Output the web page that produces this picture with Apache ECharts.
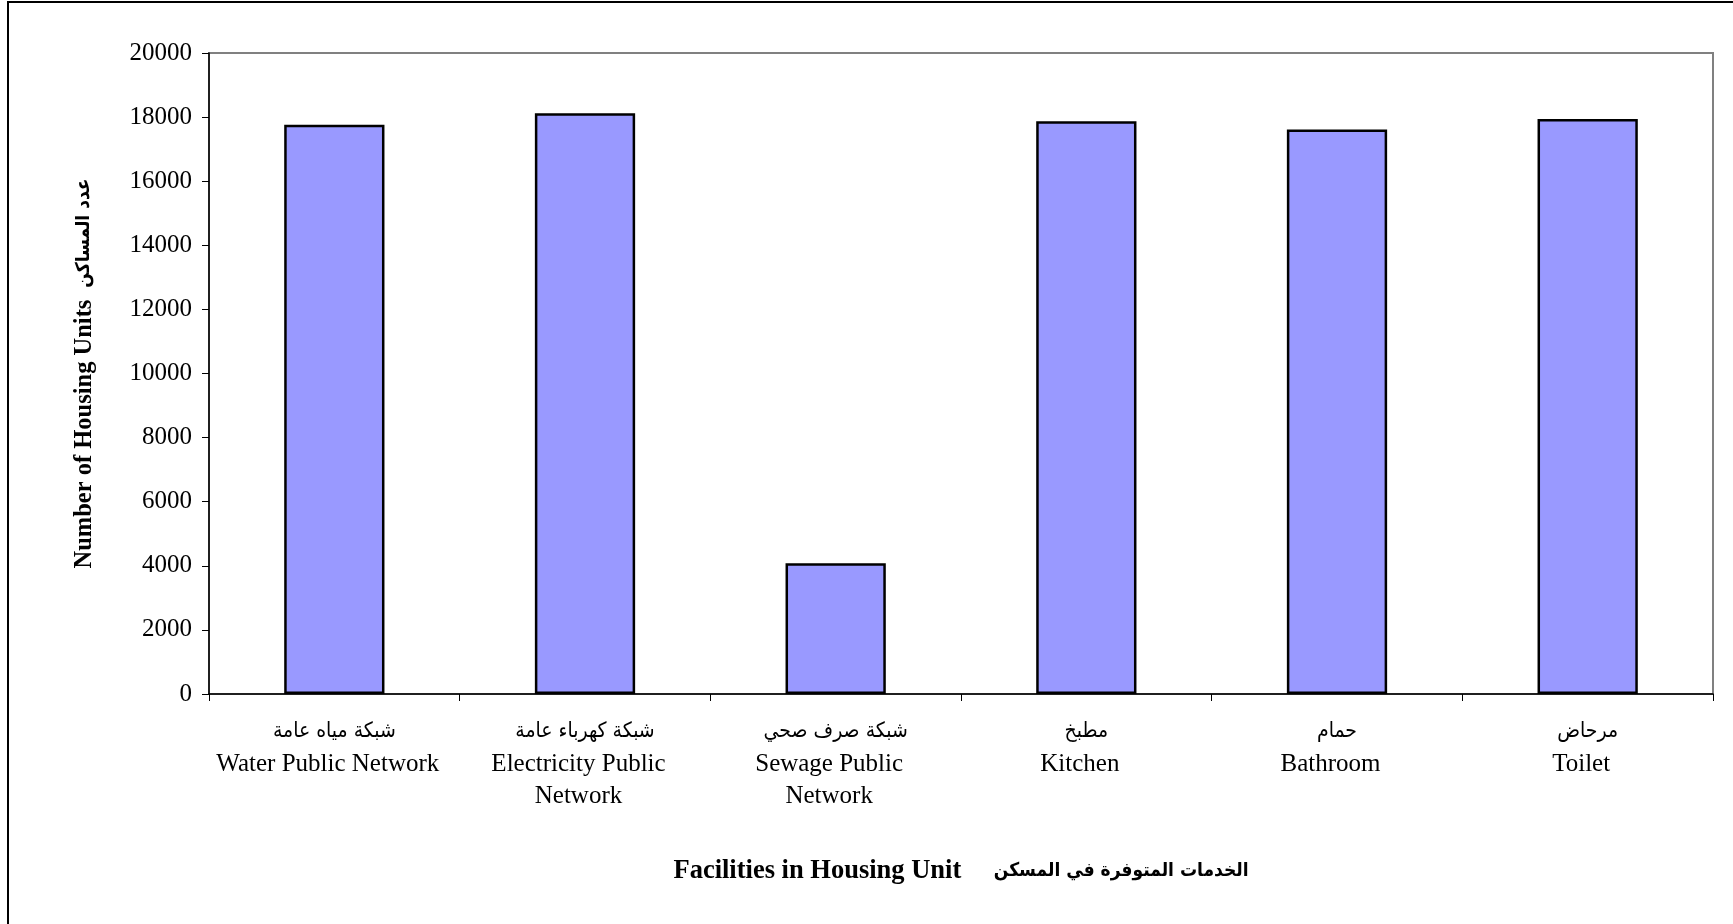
<!DOCTYPE html>
<html>
<head>
<meta charset="utf-8">
<script src="https://cdn.jsdelivr.net/npm/echarts@6/dist/echarts.min.js"></script>
<style>
html,body{margin:0;padding:0;background:#fff;}
#chart{width:1733px;height:924px;}
</style>
</head>
<body>
<div id="chart"></div>
<script>
var categoriesArabic = ['شبكة مياه عامة', 'شبكة كهرباء عامة', 'شبكة صرف صحي', 'مطبخ', 'حمام', 'مرحاض'];
var categoriesEnglish = ['Water Public Network', 'Electricity Public\nNetwork', 'Sewage Public\nNetwork', 'Kitchen', 'Bathroom', 'Toilet'];
var housingUnits = [17760, 18120, 4080, 17870, 17610, 17940];
var yTicks = [0, 2000, 4000, 6000, 8000, 10000, 12000, 14000, 16000, 18000, 20000];
var yAxisTitleEnglish = 'Number of Housing Units';
var yAxisTitleArabic = 'عدد المساكن';
var xAxisTitleEnglish = 'Facilities in Housing Unit';
var xAxisTitleArabic = 'الخدمات المتوفرة في المسكن';

var FONT = '"Liberation Serif", "Times New Roman", serif';
var AFONT = '"DejaVu Sans Condensed", "DejaVu Sans", sans-serif';

var categories = categoriesArabic.map(function (a, i) {
  var en = categoriesEnglish[i].split('\n').map(function (l) { return '{en|' + l + '}'; }).join('\n');
  return '{ar|' + a + '}\n' + en;
});

var chart = echarts.init(document.getElementById('chart'));
chart.setOption({
  backgroundColor: '#ffffff',
  animation: false,
  textStyle: { fontFamily: FONT },
  graphic: [{
    type: 'rect',
    shape: { x: 8, y: 2, width: 2000, height: 2000 },
    style: { fill: 'none', stroke: '#000', lineWidth: 2 },
    silent: true
  }],
  grid: {
    left: 209, right: 20, top: 53, bottom: 230,
    show: true, borderColor: '#808080', borderWidth: 2, backgroundColor: 'transparent'
  },
  xAxis: {
    type: 'category',
    data: categories,
    boundaryGap: true,
    axisLine: { lineStyle: { color: '#000', width: 1.5 } },
    axisTick: { show: true, length: 7, lineStyle: { color: '#000' } },
    axisLabel: {
      interval: 0, margin: 22, color: '#000', lineHeight: 32,
      rich: {
        ar: { fontFamily: AFONT, fontSize: 21, lineHeight: 32, color: '#000' },
        en: { fontFamily: FONT, fontSize: 25, lineHeight: 32, color: '#000', padding: [0, 13, 0, 0] }
      }
    },
    name: '{en|' + xAxisTitleEnglish + '}{sp|     }{ar|' + xAxisTitleArabic + '}',
    nameLocation: 'middle',
    nameGap: 164,
    nameTextStyle: {
      color: '#000',
      rich: {
        en: { fontFamily: FONT, fontSize: 26.5, fontWeight: 'bold', color: '#000' },
        sp: { fontFamily: FONT, fontSize: 26, color: '#000' },
        ar: { fontFamily: AFONT, fontSize: 19, fontWeight: 'bold', color: '#000' }
      }
    }
  },
  yAxis: {
    type: 'value',
    min: yTicks[0], max: yTicks[yTicks.length - 1], interval: yTicks[1] - yTicks[0],
    splitLine: { show: false },
    axisLine: { show: true, lineStyle: { color: '#000', width: 1.5 } },
    axisTick: { show: true, length: 7, lineStyle: { color: '#000' } },
    axisLabel: {
      margin: 17, color: '#000', fontSize: 25, fontFamily: FONT,
      formatter: function (v) { return String(v); }
    },
    name: '{en|' + yAxisTitleEnglish + '}{sp|  }{ar|' + yAxisTitleArabic + '}',
    nameLocation: 'middle',
    nameGap: 112,
    nameRotate: 90,
    nameTextStyle: {
      color: '#000',
      rich: {
        en: { fontFamily: FONT, fontSize: 24.5, fontWeight: 'bold', color: '#000' },
        sp: { fontFamily: FONT, fontSize: 24, color: '#000' },
        ar: { fontFamily: AFONT, fontSize: 19, fontWeight: 'bold', color: '#000' }
      }
    }
  },
  series: [{
    type: 'bar',
    data: housingUnits,
    barWidth: '40%',
    itemStyle: { color: '#9999FF', borderColor: '#000', borderWidth: 2.5 }
  }]
});
</script>
</body>
</html>
